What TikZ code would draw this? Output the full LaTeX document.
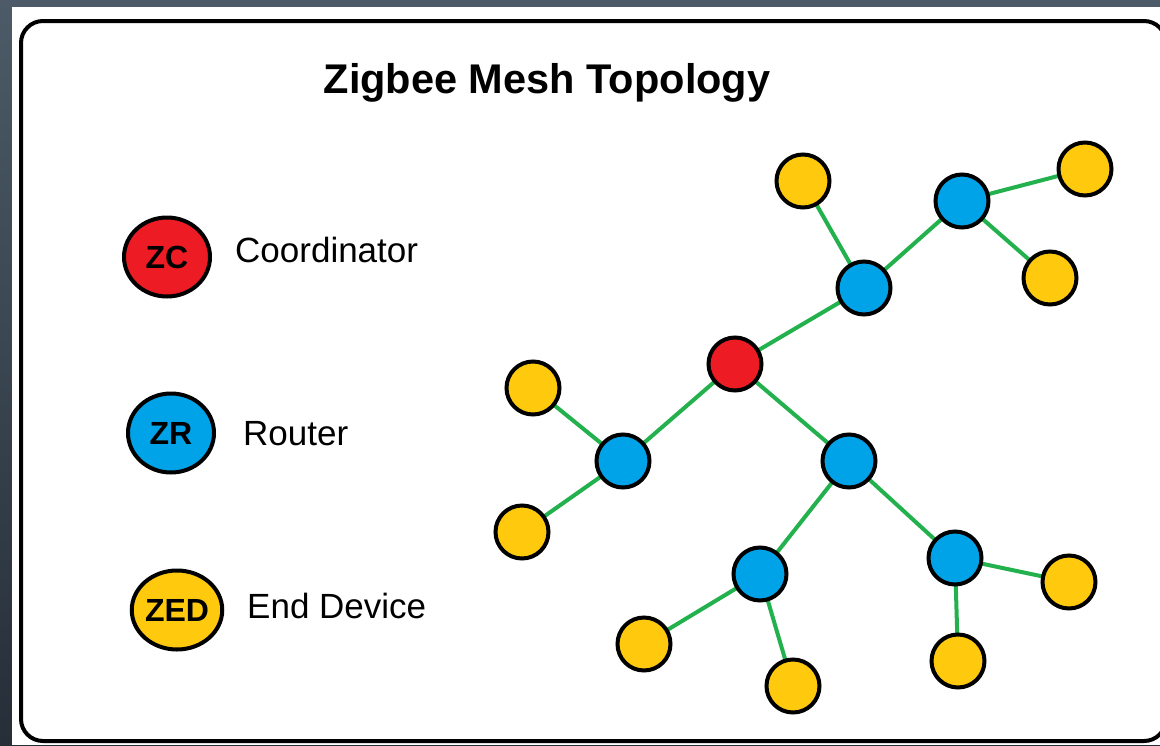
\documentclass[tikz,border=0pt]{standalone}
\usepackage{fontspec}
\setmainfont{Liberation Sans}
\usetikzlibrary{shapes.geometric}
\definecolor{zcred}{RGB}{237,28,36}
\definecolor{zrblue}{RGB}{0,162,232}
\definecolor{zedyel}{RGB}{255,201,14}
\definecolor{linkgreen}{RGB}{34,177,76}
\definecolor{bgtop}{RGB}{76,91,103}
\definecolor{bgbot}{RGB}{38,46,56}
\pgfdeclarelayer{back}
\pgfdeclarelayer{bg}
\pgfsetlayers{back,bg,main}
\begin{document}
\begin{tikzpicture}[x=1pt,y=-1pt,
  dev/.style={circle, draw=black, line width=4pt, minimum size=53pt, inner sep=0pt},
  coord/.style={dev, fill=zcred},
  router/.style={dev, fill=zrblue},
  enddev/.style={dev, fill=zedyel},
  legendsym/.style={ellipse, draw=black, line width=4pt, minimum width=86pt, minimum height=79pt, inner sep=0pt, font=\fontsize{32}{32}\bfseries},
  legendtxt/.style={anchor=base west, inner sep=0pt, font=\fontsize{35}{35}\selectfont},
  link/.style={draw=linkgreen, line width=4pt}
]
\useasboundingbox (0,0) rectangle (1160,745);
\begin{pgfonlayer}{back}
\shade[top color=bgtop, bottom color=bgbot] (0,0) rectangle (1160,745);
\fill[white] (12,7) rectangle (1160,745);
\draw[line width=4pt, rounded corners=22pt] (21,21) rectangle (1166,741);
\end{pgfonlayer}

\node[anchor=base, inner sep=0pt, font=\fontsize{41.5}{41.5}\bfseries] (title) at (547,93) {Zigbee Mesh Topology};

% legend
\node[legendsym, fill=zcred] (lzc) at (167,257) {ZC};
\node[legendsym, fill=zrblue] (lzr) at (171,433) {ZR};
\node[legendsym, fill=zedyel] (lzed) at (177,610) {ZED};
\node[legendtxt] (tzc) at (235,262) {Coordinator};
\node[legendtxt] (tzr) at (243,445) {Router};
\node[legendtxt] (tzed) at (247,618) {End Device};

% mesh nodes
\node[coord] (zc) at (735,364) {};
\node[router] (r1) at (623,461) {};
\node[router] (r2) at (849,461) {};
\node[router] (r3) at (760,574) {};
\node[router] (r4) at (864,288) {};
\node[router] (r5) at (962,201) {};
\node[router] (r6) at (955,558) {};
\node[enddev] (e1) at (533,388) {};
\node[enddev] (e2) at (522,532) {};
\node[enddev] (e3) at (644,644) {};
\node[enddev] (e4) at (793,686) {};
\node[enddev] (e5) at (803,181) {};
\node[enddev] (e6) at (1085,169) {};
\node[enddev] (e7) at (1050,278) {};
\node[enddev] (e8) at (1069,582) {};
\node[enddev] (e9) at (958,661) {};

\begin{pgfonlayer}{bg}
\path[link] (zc.center) -- (r4.center);
\path[link] (zc.center) -- (r1.center);
\path[link] (zc.center) -- (r2.center);
\path[link] (r1.center) -- (e1.center);
\path[link] (r1.center) -- (e2.center);
\path[link] (r4.center) -- (e5.center);
\path[link] (r4.center) -- (r5.center);
\path[link] (r5.center) -- (e6.center);
\path[link] (r5.center) -- (e7.center);
\path[link] (r2.center) -- (r3.center);
\path[link] (r2.center) -- (r6.center);
\path[link] (r3.center) -- (e3.center);
\path[link] (r3.center) -- (e4.center);
\path[link] (r6.center) -- (e8.center);
\path[link] (r6.center) -- (e9.center);
\end{pgfonlayer}
\end{tikzpicture}
\end{document}
